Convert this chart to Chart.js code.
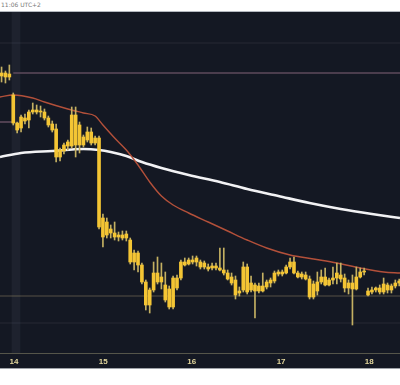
<!DOCTYPE html>
<html><head><meta charset="utf-8">
<script src="https://cdn.jsdelivr.net/npm/chart.js@4"></script>
<style>
html,body{margin:0;padding:0;background:#fff;width:400px;height:385px;overflow:hidden;}
#hdr{position:absolute;left:1px;top:1px;font:6px 'DejaVu Sans',sans-serif;color:#7a7a7a;line-height:8px;}
#wrap{position:absolute;left:0;top:11px;width:400px;height:358px;background:#141823;border-top:1px solid #b4b8bf;border-bottom:1px solid #9ea2a8;box-sizing:border-box;}
</style></head><body>
<div id="hdr">11:06 UTC+2</div>
<div id="wrap"><canvas id="c"></canvas></div>
<script>
// Candles (one per bar, index along x)
const opens  = [324,327,323,305,277,272,282,280,288,290,288,288,282,276,271,243,249,254,254,285,255,255,260,268,257,262,182,165,171,167,163,165,162,160,138,147,135,118,95,110,127,118,115,111,93,122,122,138,136,140,138,138,133,133,132,134,132,130,127,123,120,107,110,133,110,115,109,114,113,117,119,126,128,127,133,138,127,123,125,121,103,109,118,123,115,120,122,125,122,112,117,111,123,128,109,108,110,112,108,115,110,114,117];
const highs  = [333,329,335,307,278,285,286,290,297,295,294,291,284,279,276,252,257,260,293,293,278,265,273,272,264,264,186,182,175,178,168,169,169,162,150,149,137,120,112,138,143,137,128,114,124,125,140,142,142,144,144,140,139,136,137,137,152,152,130,127,124,113,138,136,124,117,117,127,120,122,129,130,130,135,142,143,129,128,128,124,119,128,130,132,122,133,137,137,126,120,125,133,132,132,112,113,113,115,122,117,116,120,121];
const lows   = [318,317,320,275,267,268,276,272,286,286,283,280,273,268,238,239,246,250,252,243,247,253,258,255,255,171,153,162,162,160,159,160,159,136,130,128,116,90,87,108,116,111,98,91,91,110,120,134,135,136,134,131,131,129,130,130,129,125,120,115,101,104,108,106,108,82,107,108,111,113,117,124,124,126,131,126,122,121,120,101,101,105,116,114,114,116,116,118,108,106,75,110,122,125,104,106,108,106,106,107,107,112,114];
const closes = [327,323,326,277,270,283,279,288,290,288,289,282,275,270,243,250,255,258,285,255,275,263,268,257,262,173,163,178,167,163,165,162,166,138,147,135,118,95,110,127,118,123,100,93,122,112,138,135,140,138,142,133,137,131,134,132,130,127,121,117,105,109,133,108,117,109,114,109,118,120,127,128,126,133,138,127,123,126,121,103,116,118,123,115,120,122,127,121,112,117,111,123,128,129,105,110,112,108,116,110,114,117,119];

const maRedX   = [-0.4,3,8,11,17,21,24,26,29,32,35,38,41,44,48,53,58,63,68,74,80,86,92,98,102.2];
const maRedY   = [303,305,302,298,291,287,284,275,262,250,235,218,204,195,187,178,169,160,152,145,141,137,132,128,127];
const maWhiteX = [-0.4,5,13,21,25,28,32,36,41,48,56,63,71,79,87,95,102.2];
const maWhiteY = [243,247,249,251,250,248,244,238,232,225,218,211,204,197,191,186,182];

// Horizontal levels
const resistance = 327, resistanceFrom = 3;
const oldLevel = 278, oldLevelTo = 3;
const support = 104;
const faintLevels = [357, 77];

// Day ticks
const dayTickPos = [3.2, 26.1, 48.8, 71.7, 94.3];
const dayLabels  = ['14','15','16','17','18'];
const cursorPos = 3.7;

const X_MIN = -0.4, X_MAX = 102.2, Y_MIN = 47, Y_MAX = 388;

const wickData = opens.map((o,i)=>({x:i, y:[lows[i], highs[i]]}));
const bodyData = opens.map((o,i)=>({x:i, y:[Math.min(o,closes[i]), Math.max(o,closes[i])]}));
const pts = (xs,ys)=>xs.map((x,i)=>({x, y:ys[i]}));
const hline = (y, x0, x1)=>[{x:x0,y},{x:x1,y}];
const lineDs = (data, color, w, order)=>({type:'line', data, borderColor:color, borderWidth:w, pointRadius:0, tension:0, order, fill:false});

const datasets = [
  {type:'bar', data:[{x:cursorPos, y:[Y_MIN, Y_MAX]}], backgroundColor:'rgba(130,140,170,0.09)', barThickness:8, grouped:false, order:20},
  ...faintLevels.map(v=>lineDs(hline(v, X_MIN, X_MAX), 'rgba(120,125,140,0.18)', 1, 15)),
  lineDs(hline(support, X_MIN, X_MAX), 'rgba(170,150,110,0.45)', 1, 12),
  lineDs(hline(resistance, resistanceFrom, X_MAX), '#5e4a5c', 1.6, 11),
  lineDs(hline(oldLevel, X_MIN, oldLevelTo), '#5e4a5c', 1.6, 11),
  {...lineDs(pts(maWhiteX, maWhiteY), '#f2f2f4', 2.6, 5), tension:0.4, cubicInterpolationMode:'monotone'},
  {...lineDs(pts(maRedX, maRedY), '#b3503a', 1.4, 4), tension:0.4, cubicInterpolationMode:'monotone'},
  {type:'bar', data:wickData, backgroundColor:'#c4b062', barThickness:1, grouped:false, order:1},
  {type:'bar', data:bodyData, backgroundColor:'#f4c534', barThickness:3, grouped:false, order:0}
];

new Chart(document.getElementById('c'), {
  type:'bar',
  data:{datasets},
  options:{
    animation:false, responsive:true, maintainAspectRatio:false,
    layout:{padding:0, autoPadding:false},
    plugins:{legend:{display:false}, tooltip:{enabled:false}},
    scales:{
      x:{type:'linear', min:X_MIN, max:X_MAX, offset:false,
         grid:{display:false, drawTicks:false, tickLength:0},
         border:{display:true, color:'#55554a', width:1},
         afterBuildTicks:s=>{ s.ticks = dayTickPos.map(v=>({value:v})); },
         afterFit:s=>{ s.height = 15; },
         ticks:{autoSkip:false, maxRotation:0, padding:4, color:'#e2d69c',
                font:{family:'Liberation Sans', size:8, weight:'bold'},
                callback:(v,i)=>dayLabels[i]}},
      y:{display:false, min:Y_MIN, max:Y_MAX}
    }
  }
});
</script></body></html>
